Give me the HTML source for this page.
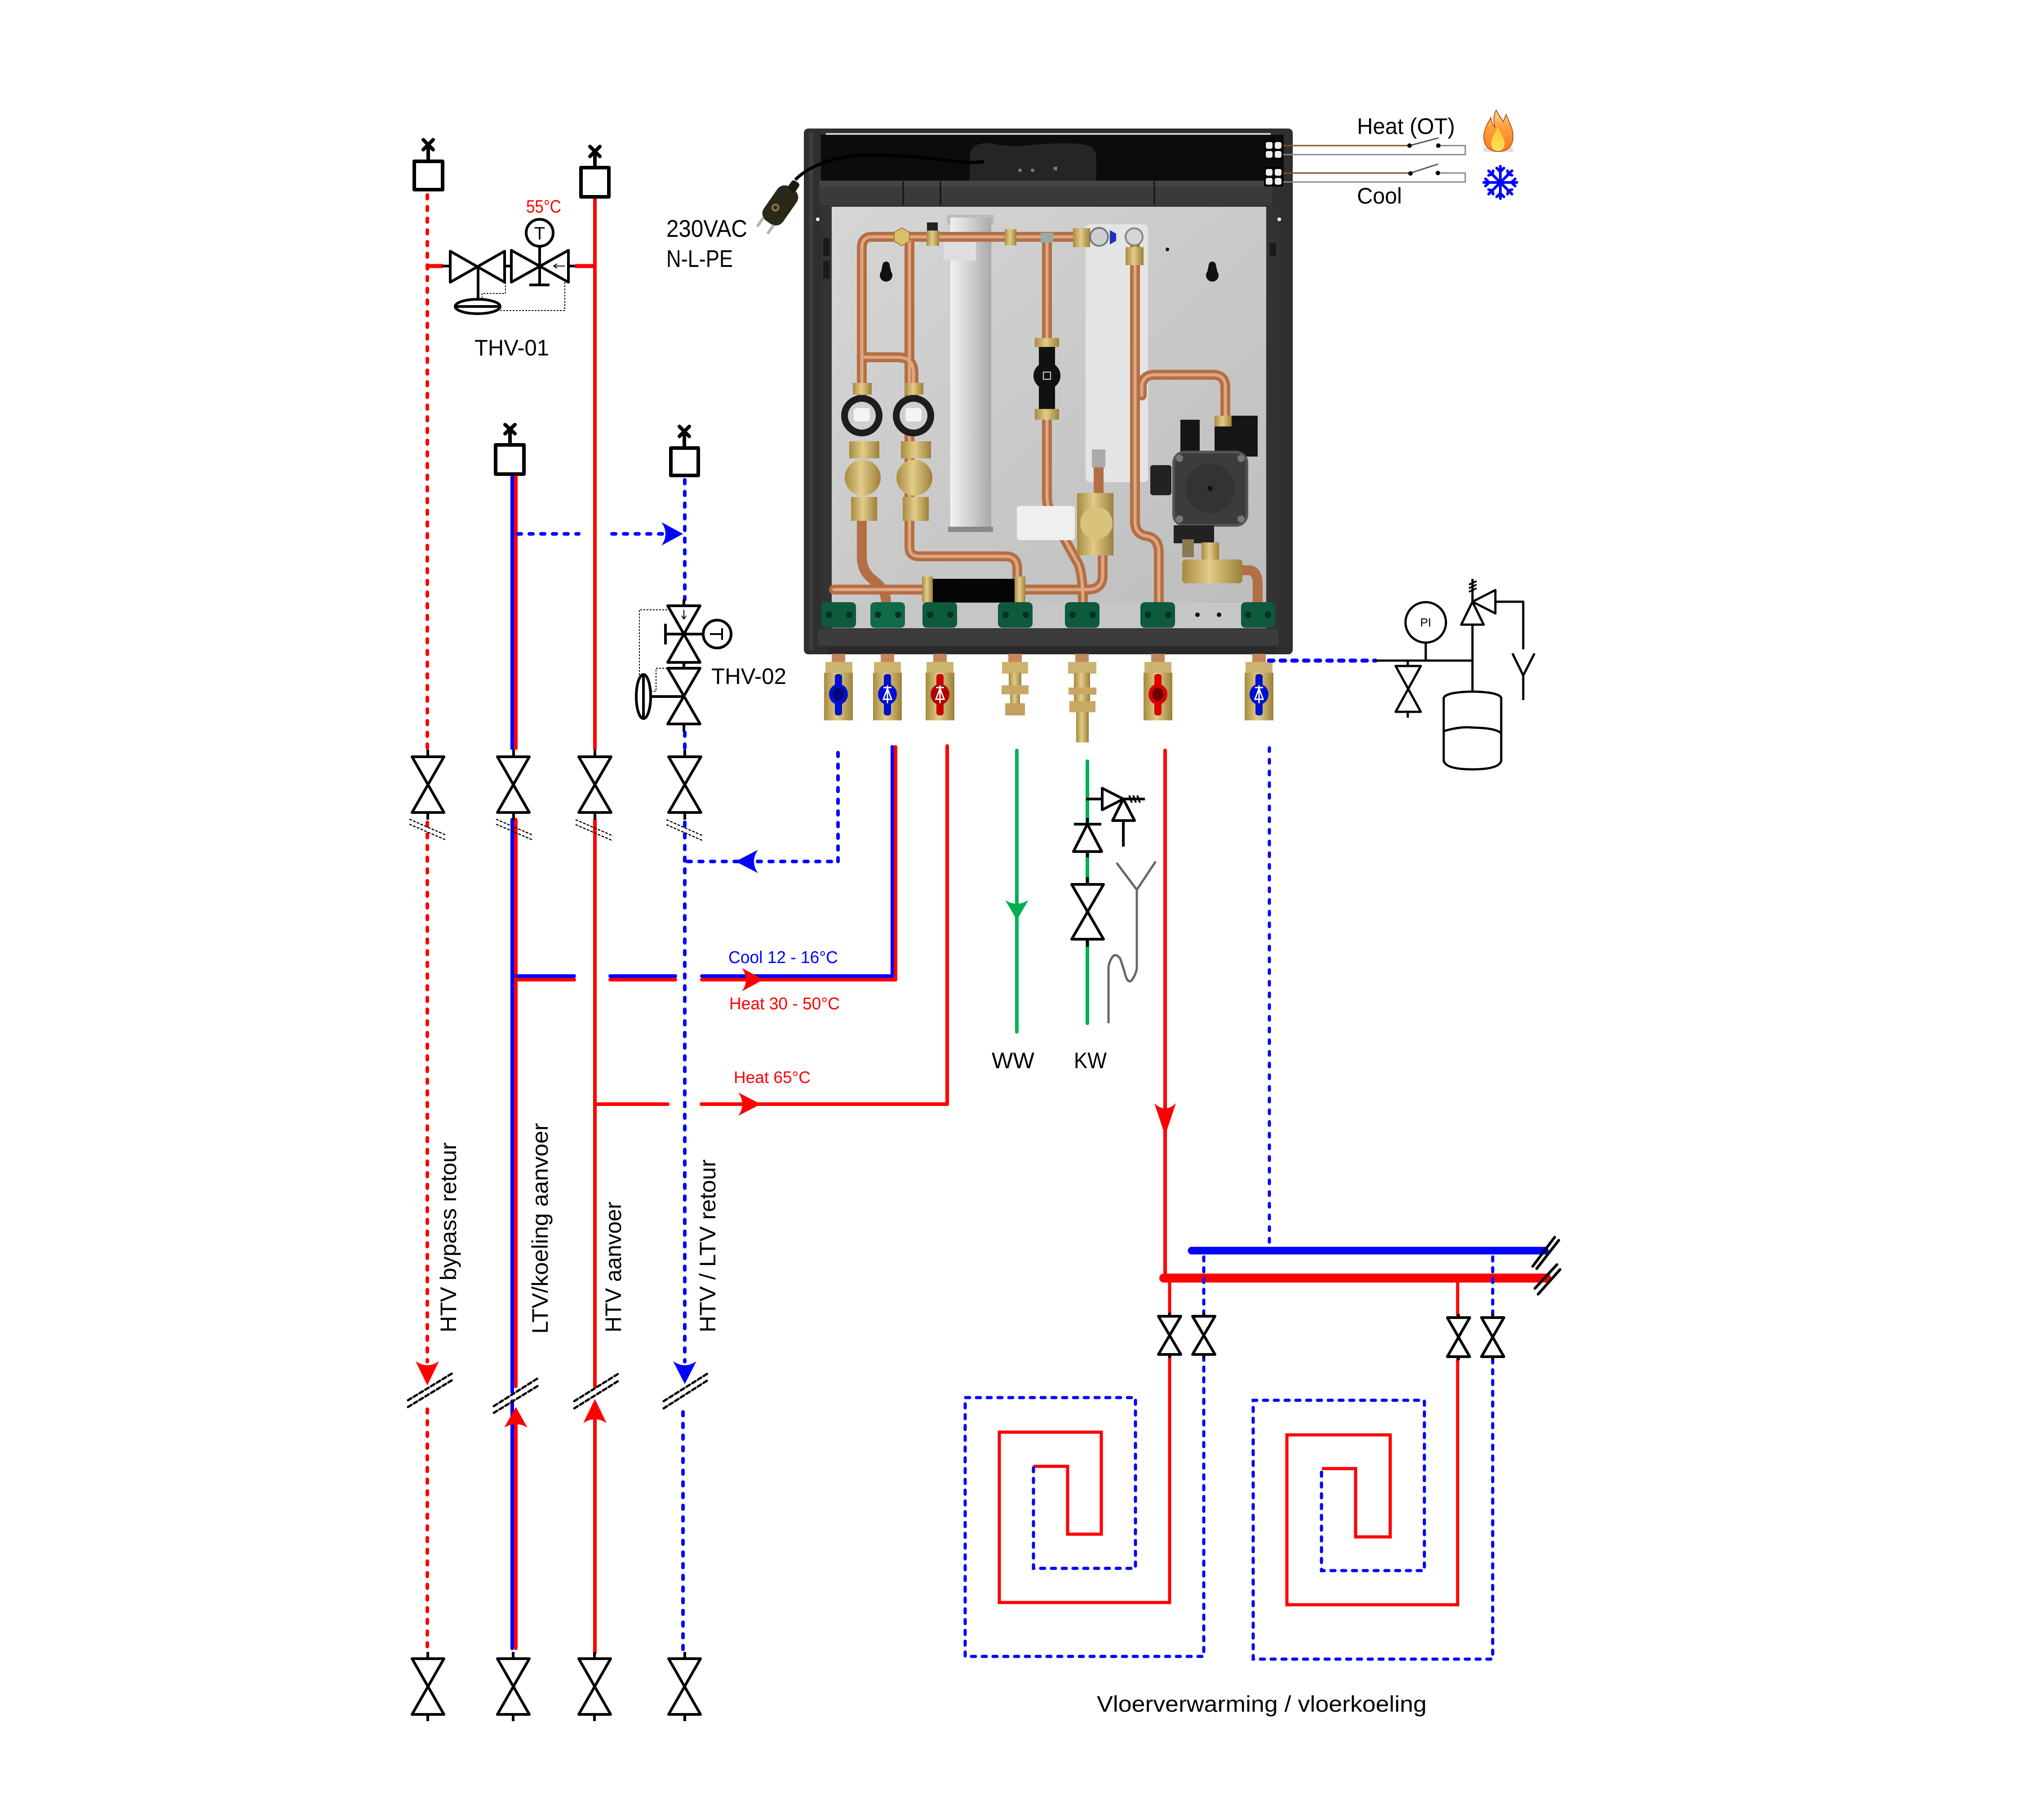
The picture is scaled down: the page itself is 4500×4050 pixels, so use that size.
<!DOCTYPE html>
<html><head><meta charset="utf-8"><title>Schema</title>
<style>html,body{margin:0;padding:0;background:#fff}svg{display:block}</style></head>
<body>
<svg xmlns="http://www.w3.org/2000/svg" width="4500" height="4050" viewBox="0 0 4500 4050" font-family="'Liberation Sans', Arial, sans-serif">
<defs>
<linearGradient id="pg" x1="0" y1="0" x2="1" y2="1"><stop offset="0" stop-color="#d6d6d6"/><stop offset="1" stop-color="#bdbdbd"/></linearGradient>
<linearGradient id="hx" x1="0" y1="0" x2="1" y2="0"><stop offset="0" stop-color="#f2f2f2"/><stop offset="0.5" stop-color="#cfcfcf"/><stop offset="1" stop-color="#a9a9a9"/></linearGradient>
<linearGradient id="br" x1="0" y1="0" x2="1" y2="0"><stop offset="0" stop-color="#a88a40"/><stop offset="0.45" stop-color="#e2cc88"/><stop offset="1" stop-color="#9c8038"/></linearGradient>
<linearGradient id="fl" x1="0" y1="1" x2="0" y2="0"><stop offset="0" stop-color="#ff7a1a"/><stop offset="0.6" stop-color="#ffa040"/><stop offset="1" stop-color="#ffd8a0"/></linearGradient>
<linearGradient id="fi" x1="0" y1="1" x2="0" y2="0"><stop offset="0" stop-color="#ffe060"/><stop offset="1" stop-color="#ffc830"/></linearGradient>
</defs>
<rect width="4500" height="4050" fill="#fff"/>

<!-- ================= PANEL ================= -->
<g>
<rect x="1789" y="286" width="1088" height="1170" rx="10" fill="#2f2f2f"/>
<rect x="1800" y="296" width="10" height="1150" fill="#3e3e3e"/>
<rect x="1827" y="300" width="1030" height="102" fill="#0c0c0c"/>
<line x1="1838" y1="298" x2="2828" y2="298" stroke="#cfcfcf" stroke-width="4"/>
<path d="M2158,402 L2158,345 Q2162,318 2200,318 Q2250,330 2300,322 Q2400,314 2428,326 Q2442,336 2440,362 L2440,402 Z" fill="#252525"/>
<circle cx="2270" cy="379" r="4" fill="#777"/><circle cx="2298" cy="379" r="4" fill="#777"/><rect x="2345" y="371" width="8" height="8" fill="#777"/>
<rect x="1823" y="402" width="1009" height="55" fill="#3a3a3a"/>
<rect x="1823" y="402" width="1009" height="14" fill="#444"/>
<line x1="2010" y1="404" x2="2010" y2="456" stroke="#1a1a1a" stroke-width="4"/>
<line x1="2093" y1="404" x2="2093" y2="456" stroke="#1a1a1a" stroke-width="4"/>
<line x1="2569" y1="404" x2="2569" y2="456" stroke="#1a1a1a" stroke-width="4"/>
<rect x="1827" y="460" width="24" height="940" fill="#333"/>
<rect x="2818" y="460" width="28" height="940" fill="#333"/>
<rect x="1832" y="530" width="14" height="40" fill="#1a1a1a"/><rect x="1832" y="580" width="14" height="40" fill="#1a1a1a"/>
<rect x="2826" y="540" width="14" height="30" fill="#1a1a1a"/>
<circle cx="1820" cy="488" r="4" fill="#fff"/><circle cx="2847" cy="488" r="4" fill="#fff"/>
<!-- inner panel -->
<rect x="1851" y="460" width="967" height="881" fill="url(#pg)"/>
<!-- keyholes -->
<path d="M1964,590 a8,8 0 0 1 16,0 l3,14 a14,14 0 1 1 -22,0 z" fill="#111"/>
<path d="M2690,590 a8,8 0 0 1 16,0 l3,14 a14,14 0 1 1 -22,0 z" fill="#111"/>
<circle cx="2598" cy="555" r="4" fill="#111"/>
<!-- white plate -->
<rect x="2416" y="499" width="139" height="574" rx="10" fill="#e4e4e4"/>
<!-- heat exchanger -->
<rect x="2108" y="478" width="104" height="22" fill="#bbb"/>
<rect x="2115" y="484" width="91" height="699" fill="url(#hx)"/>
<rect x="2100" y="527" width="72" height="53" fill="#dedede"/>
<rect x="2110" y="1172" width="100" height="12" fill="#8a8a8a"/>
<!-- copper pipes -->
<g fill="none" stroke="#b46e45" stroke-width="22" stroke-linecap="round" stroke-linejoin="round">
<path d="M2009,527 H1940 Q1918,527 1918,552 V900"/>
<path d="M1918,1159 V1240 Q1918,1272 1945,1292 Q1972,1312 1972,1341"/>
<path d="M2024,537 V1218 Q2024,1238 2046,1238 H2238 Q2264,1238 2264,1266 V1300"/>
<path d="M1918,795 H1998 Q2033,795 2033,830 V900"/>
<path d="M2009,527 H2445"/>
<path d="M2330,537 V760"/>
<path d="M2330,930 V1105 Q2330,1130 2346,1158 L2400,1255 Q2410,1280 2410,1341"/>
<path d="M2526,537 V1160 Q2526,1190 2553,1193 Q2579,1198 2579,1230 V1341"/>
<path d="M2541,880 V862 Q2541,834 2570,834 H2700 Q2727,834 2727,862 V929"/>
<path d="M1856,1312 H2052"/>
<path d="M2282,1312 H2420 Q2454,1312 2454,1280 V1236"/>
<path d="M2765,1269 H2778 Q2799,1269 2799,1300 V1341"/>
<path d="M2445,1097 V1040"/>
</g>
<g fill="none" stroke="#e6b08c" stroke-width="7" stroke-linecap="round" stroke-linejoin="round" opacity="0.85">
<path d="M2009,527 H1940 Q1918,527 1918,552 V900"/>
<path d="M2024,537 V1218 Q2024,1238 2046,1238 H2238 Q2264,1238 2264,1266 V1300"/>
<path d="M1918,795 H1998 Q2033,795 2033,830 V900"/>
<path d="M2009,527 H2445"/>
<path d="M2330,537 V760"/>
<path d="M2330,930 V1105 Q2330,1130 2346,1158 L2400,1255 Q2410,1280 2410,1341"/>
<path d="M2526,537 V1160 Q2526,1190 2553,1193 Q2579,1198 2579,1230 V1341"/>
<path d="M2541,880 V862 Q2541,834 2570,834 H2700 Q2727,834 2727,862 V929"/>
<path d="M1856,1312 H2052"/>
<path d="M2282,1312 H2420 Q2454,1312 2454,1280 V1236"/>
</g>
<!-- top pipe fittings -->
<polygon points="2007,507 2024,517 2024,537 2007,547 1990,537 1990,517" fill="#d8c068" stroke="#9c8038" stroke-width="2"/>
<rect x="2063" y="495" width="24" height="18" fill="#222"/>
<rect x="2062" y="513" width="28" height="34" fill="url(#br)"/>
<rect x="2236" y="510" width="26" height="36" fill="url(#br)"/>
<rect x="2316" y="518" width="28" height="22" fill="#9aa"/>
<rect x="2388" y="508" width="38" height="42" fill="url(#br)"/>
<circle cx="2446" cy="527" r="20" fill="#cfcfcf" stroke="#777" stroke-width="4"/>
<polygon points="2470,512 2484,520 2484,536 2470,544" fill="#2030c0"/>
<circle cx="2524" cy="527" r="19" fill="#d6d6d6" stroke="#888" stroke-width="4"/>
<rect x="2505" y="550" width="40" height="40" fill="url(#br)"/>
<!-- middle check valve -->
<rect x="2303" y="752" width="54" height="20" fill="url(#br)"/>
<rect x="2312" y="772" width="36" height="138" fill="#111"/>
<circle cx="2330" cy="836" r="30" fill="#111"/>
<rect x="2322" y="828" width="16" height="16" fill="none" stroke="#ddd" stroke-width="2"/>
<rect x="2303" y="910" width="54" height="24" fill="url(#br)"/>
<!-- flow meters -->
<g>
<rect x="1898" y="852" width="42" height="26" fill="url(#br)"/>
<circle cx="1918" cy="925" r="46" fill="#1d1d1d"/><circle cx="1918" cy="925" r="31" fill="#cfcfcf"/><rect x="1900" y="908" width="36" height="30" rx="6" fill="#f3f3f3"/>
<rect x="1890" y="982" width="67" height="38" fill="url(#br)"/>
<circle cx="1920" cy="1063" r="40" fill="url(#br)"/>
<rect x="1894" y="1106" width="58" height="53" fill="url(#br)"/>
<rect x="2013" y="852" width="42" height="26" fill="url(#br)"/>
<circle cx="2033" cy="925" r="46" fill="#1d1d1d"/><circle cx="2033" cy="925" r="31" fill="#cfcfcf"/><rect x="2015" y="908" width="36" height="30" rx="6" fill="#f3f3f3"/>
<rect x="2005" y="982" width="67" height="38" fill="url(#br)"/>
<circle cx="2035" cy="1063" r="40" fill="url(#br)"/>
<rect x="2009" y="1106" width="58" height="53" fill="url(#br)"/>
</g>
<!-- bottom insulation -->
<rect x="2072" y="1288" width="186" height="53" fill="#050505"/>
<rect x="2052" y="1283" width="24" height="58" fill="url(#br)"/>
<rect x="2258" y="1283" width="24" height="58" fill="url(#br)"/>
<!-- white cylinder + 3-way valve -->
<rect x="2263" y="1126" width="129" height="76" rx="6" fill="#efefef"/>
<rect x="2430" y="1000" width="30" height="40" fill="#aaa"/>
<rect x="2397" y="1097" width="81" height="139" fill="url(#br)"/>
<circle cx="2440" cy="1164" r="36" fill="#d9c27a"/>
<!-- pump -->
<rect x="2627" y="934" width="43" height="72" fill="#161616"/>
<rect x="2703" y="925" width="96" height="91" fill="#161616"/>
<rect x="2703" y="925" width="38" height="24" fill="url(#br)"/>
<rect x="2560" y="1035" width="47" height="67" rx="6" fill="#222"/>
<rect x="2612" y="1006" width="163" height="163" rx="24" fill="#3c3c3c" stroke="#555" stroke-width="6"/>
<circle cx="2693" cy="1087" r="55" fill="#333"/>
<circle cx="2693" cy="1087" r="6" fill="#111"/>
<circle cx="2625" cy="1020" r="8" fill="#777"/><circle cx="2762" cy="1020" r="8" fill="#777"/><circle cx="2625" cy="1155" r="8" fill="#777"/><circle cx="2762" cy="1155" r="8" fill="#777"/>
<rect x="2612" y="1169" width="90" height="40" fill="#222"/>
<rect x="2631" y="1200" width="26" height="40" fill="#8a7a50"/>
<rect x="2674" y="1207" width="39" height="43" fill="url(#br)"/>
<rect x="2631" y="1245" width="134" height="53" rx="8" fill="url(#br)"/>
<!-- bottom rail & clamps -->
<rect x="1851" y="1341" width="967" height="57" fill="#c6c6c6"/>
<g fill="#0d5a3c">
<rect x="1828" y="1340" width="77" height="57" rx="10"/><rect x="1937" y="1340" width="77" height="57" rx="10" fill="#0f6a47"/><rect x="2053" y="1340" width="77" height="57" rx="10"/><rect x="2221" y="1340" width="77" height="57" rx="10"/><rect x="2370" y="1340" width="77" height="57" rx="10"/><rect x="2538" y="1340" width="77" height="57" rx="10"/><rect x="2762" y="1340" width="75" height="57" rx="10"/>
</g>
<g fill="#06301f">
<circle cx="1845" cy="1368" r="7"/><circle cx="1890" cy="1368" r="7"/><circle cx="1954" cy="1368" r="7"/><circle cx="1999" cy="1368" r="7"/><circle cx="2070" cy="1368" r="7"/><circle cx="2115" cy="1368" r="7"/><circle cx="2238" cy="1368" r="7"/><circle cx="2283" cy="1368" r="7"/><circle cx="2387" cy="1368" r="7"/><circle cx="2432" cy="1368" r="7"/><circle cx="2555" cy="1368" r="7"/><circle cx="2600" cy="1368" r="7"/><circle cx="2778" cy="1368" r="7"/><circle cx="2822" cy="1368" r="7"/>
</g>
<circle cx="2665" cy="1368" r="5" fill="#111"/><circle cx="2713" cy="1368" r="5" fill="#111"/>
<rect x="1820" y="1400" width="1025" height="37" fill="#3c3c3c"/>
<rect x="1840" y="1437" width="1000" height="19" fill="#2a2a2a"/>
<!-- terminal blocks -->
<rect x="2813" y="312" width="43" height="43" fill="#000"/>
<rect x="2813" y="372" width="43" height="43" fill="#000"/>
<g fill="#eee">
<rect x="2817" y="316" width="15" height="15" rx="4"/><rect x="2837" y="316" width="15" height="15" rx="4"/><rect x="2817" y="336" width="15" height="15" rx="4"/><rect x="2837" y="336" width="15" height="15" rx="4"/>
<rect x="2817" y="376" width="15" height="15" rx="4"/><rect x="2837" y="376" width="15" height="15" rx="4"/><rect x="2817" y="396" width="15" height="15" rx="4"/><rect x="2837" y="396" width="15" height="15" rx="4"/>
</g>
<!-- plug cable and plug -->
<path d="M1770,400 Q1820,350 1930,345 Q2030,346 2100,356 Q2150,364 2190,360" fill="none" stroke="#000" stroke-width="7"/>
<g transform="translate(1733,462) rotate(35)">
<rect x="-26" y="-52" width="52" height="92" rx="20" fill="#2a2818"/>
<rect x="-10" y="-70" width="20" height="24" rx="6" fill="#1a1a10"/>
<circle cx="-6" cy="4" r="9" fill="#8a6a40"/><circle cx="-6" cy="4" r="4" fill="#2a2010"/>
<rect x="-18" y="38" width="6" height="24" fill="#b8b0a0"/><rect x="10" y="38" width="6" height="24" fill="#b8b0a0"/>
</g>
<!-- fittings below panel -->
<g>
<rect x="1851" y="1455" width="30" height="20" fill="#c4875c"/>
<rect x="1837" y="1473" width="60" height="26" fill="#cbb370"/>
<rect x="1834" y="1497" width="64" height="106" fill="url(#br)"/>
<rect x="1858" y="1500" width="16" height="92" rx="6" fill="#0010d0"/>
<ellipse cx="1866" cy="1545" rx="21" ry="23" fill="#0010d0"/><ellipse cx="1866" cy="1545" rx="12" ry="15" fill="#00087a"/>

<rect x="1960" y="1455" width="30" height="20" fill="#c4875c"/>
<rect x="1945" y="1473" width="60" height="26" fill="#cbb370"/>
<rect x="1943" y="1497" width="64" height="106" fill="url(#br)"/>
<rect x="1967" y="1500" width="16" height="92" rx="6" fill="#0010d0"/>
<ellipse cx="1975" cy="1545" rx="21" ry="23" fill="#0010d0"/>
<path d="M1966,1530 H1984 M1975,1525 V1565 M1975,1532 L1966,1556 H1984 Z" fill="none" stroke="#fff" stroke-width="3"/>

<rect x="2077" y="1455" width="30" height="20" fill="#c4875c"/>
<rect x="2062" y="1473" width="60" height="26" fill="#cbb370"/>
<rect x="2060" y="1497" width="64" height="106" fill="url(#br)"/>
<rect x="2084" y="1500" width="16" height="92" rx="6" fill="#cc0000"/>
<ellipse cx="2092" cy="1545" rx="21" ry="23" fill="#b00000"/>
<path d="M2083,1530 H2101 M2092,1525 V1565 M2092,1532 L2083,1556 H2101 Z" fill="none" stroke="#fff" stroke-width="3"/>

<rect x="2244" y="1455" width="30" height="20" fill="#c4875c"/>
<rect x="2230" y="1473" width="58" height="26" fill="#cbb370"/>
<rect x="2245" y="1497" width="28" height="30" fill="url(#br)"/>
<rect x="2229" y="1525" width="60" height="20" fill="#c9a866"/>
<rect x="2248" y="1545" width="22" height="22" fill="url(#br)"/>
<rect x="2237" y="1565" width="44" height="27" fill="#c4a060"/>

<rect x="2393" y="1455" width="30" height="20" fill="#c4875c"/>
<rect x="2377" y="1473" width="63" height="26" fill="#cbb370"/>
<rect x="2390" y="1497" width="36" height="33" fill="url(#br)"/>
<rect x="2378" y="1530" width="62" height="16" fill="#c9a866"/>
<rect x="2390" y="1545" width="36" height="16" fill="url(#br)"/>
<rect x="2380" y="1560" width="58" height="25" fill="#c9a866"/>
<rect x="2395" y="1585" width="28" height="67" fill="url(#br)"/>

<rect x="2562" y="1455" width="30" height="20" fill="#c4875c"/>
<rect x="2547" y="1473" width="60" height="26" fill="#cbb370"/>
<rect x="2545" y="1497" width="64" height="106" fill="url(#br)"/>
<rect x="2569" y="1500" width="16" height="92" rx="6" fill="#dd0000"/>
<ellipse cx="2577" cy="1545" rx="21" ry="23" fill="#dd0000"/><ellipse cx="2577" cy="1545" rx="12" ry="15" fill="#6a0000"/>

<rect x="2787" y="1455" width="30" height="20" fill="#c4875c"/>
<rect x="2772" y="1473" width="60" height="26" fill="#cbb370"/>
<rect x="2770" y="1497" width="64" height="106" fill="url(#br)"/>
<rect x="2794" y="1500" width="16" height="92" rx="6" fill="#0010d0"/>
<ellipse cx="2802" cy="1545" rx="21" ry="23" fill="#0010d0"/>
<path d="M2793,1530 H2811 M2802,1525 V1565 M2802,1532 L2793,1556 H2811 Z" fill="none" stroke="#fff" stroke-width="3"/>
</g>
</g>

<!-- ================= HEAT / COOL ================= -->
<g fill="none" stroke-width="3">
<line x1="2856" y1="324" x2="3137" y2="324" stroke="#8b4a1a"/>
<line x1="3137" y1="324" x2="3201" y2="307" stroke="#555"/>
<path d="M3201,324 H3261 V344 H2856" stroke="#888"/>
<line x1="2856" y1="385" x2="3139" y2="385" stroke="#8b4a1a"/>
<line x1="3139" y1="385" x2="3201" y2="365" stroke="#555"/>
<path d="M3200,385 H3261 V405 H2856" stroke="#888"/>
</g>
<circle cx="3137" cy="324" r="5" fill="#000"/><circle cx="3201" cy="324" r="5" fill="#000"/>
<circle cx="3139" cy="386" r="5" fill="#000"/><circle cx="3200" cy="385" r="5" fill="#000"/>
<text x="3020" y="298" font-size="50" textLength="218" lengthAdjust="spacingAndGlyphs">Heat (OT)</text>
<text x="3020" y="453" font-size="50" textLength="100" lengthAdjust="spacingAndGlyphs">Cool</text>
<!-- flame -->
<rect x="3302" y="328" width="65" height="10" fill="#ddd"/>
<path d="M3334,337 C3306,337 3298,312 3304,292 C3307,279 3314,270 3318,262 C3320,274 3323,280 3327,283 C3323,266 3325,253 3330,245 C3336,258 3341,263 3346,271 C3348,264 3350,259 3352,255 C3357,270 3369,287 3367,307 C3366,326 3355,337 3334,337 Z" fill="url(#fl)" stroke="#b0561a" stroke-width="2"/>
<path d="M3334,336 C3320,336 3316,322 3320,310 C3324,300 3330,292 3333,283 C3338,295 3346,303 3348,315 C3350,328 3344,336 3334,336 Z" fill="url(#fi)"/>
<!-- snowflake -->
<g stroke="#0000ff" stroke-width="6" stroke-linecap="round" fill="none">
<line x1="3339" y1="370" x2="3339" y2="442"/>
<line x1="3302" y1="406" x2="3376" y2="406"/>
<line x1="3313" y1="380" x2="3365" y2="432"/>
<line x1="3365" y1="380" x2="3313" y2="432"/>
<path d="M3331,374 L3339,382 L3347,374 M3331,438 L3339,430 L3347,438 M3306,398 L3314,406 L3306,414 M3372,398 L3364,406 L3372,414"/>
<path d="M3313,390 L3321,388 L3323,380 M3365,390 L3357,388 L3355,380 M3313,422 L3321,424 L3323,432 M3365,422 L3357,424 L3355,432"/>
</g>

<!-- 230VAC -->
<text x="1483" y="527" font-size="54" textLength="180" lengthAdjust="spacingAndGlyphs">230VAC</text>
<text x="1483" y="594" font-size="54" textLength="148" lengthAdjust="spacingAndGlyphs">N-L-PE</text>

<!-- ================= LEFT RISERS ================= -->
<g fill="none" stroke-linecap="round">
<!-- red dashed -->
<line x1="951" y1="434" x2="951" y2="1664" stroke="#f00" stroke-width="8" stroke-dasharray="8 18"/>
<line x1="951" y1="1830" x2="951" y2="3030" stroke="#f00" stroke-width="8" stroke-dasharray="8 18"/>
<line x1="951" y1="3136" x2="951" y2="3666" stroke="#f00" stroke-width="8" stroke-dasharray="8 18"/>
<!-- LTV pair -->
<line x1="1140" y1="1059" x2="1140" y2="1668" stroke="#00f" stroke-width="8" stroke-linecap="butt"/>
<line x1="1148" y1="1059" x2="1148" y2="1668" stroke="#f00" stroke-width="8" stroke-linecap="butt"/>
<line x1="1140" y1="1824" x2="1140" y2="3098" stroke="#00f" stroke-width="8"/>
<line x1="1148" y1="1824" x2="1148" y2="3085" stroke="#f00" stroke-width="8"/>
<line x1="1140" y1="3118" x2="1140" y2="3668" stroke="#00f" stroke-width="8"/>
<line x1="1148" y1="3150" x2="1148" y2="3668" stroke="#f00" stroke-width="8"/>
<!-- HTV red -->
<line x1="1324" y1="442" x2="1324" y2="1668" stroke="#f00" stroke-width="8" stroke-linecap="butt"/>
<line x1="1324" y1="1824" x2="1324" y2="3085" stroke="#f00" stroke-width="8"/>
<line x1="1324" y1="3140" x2="1324" y2="3678" stroke="#f00" stroke-width="8"/>
<!-- blue dashed -->
<line x1="1524" y1="1068" x2="1524" y2="1334" stroke="#00f" stroke-width="8" stroke-dasharray="8 18"/>
<line x1="1524" y1="1630" x2="1524" y2="1664" stroke="#00f" stroke-width="8" stroke-dasharray="8 18"/>
<line x1="1524" y1="1830" x2="1524" y2="3030" stroke="#00f" stroke-width="8" stroke-dasharray="8 18"/>
<line x1="1520" y1="3142" x2="1520" y2="3672" stroke="#00f" stroke-width="8" stroke-dasharray="8 18"/>
<!-- horizontals -->
<line x1="1152" y1="1188" x2="1288" y2="1188" stroke="#00f" stroke-width="8" stroke-dasharray="8 18"/>
<line x1="1362" y1="1188" x2="1480" y2="1188" stroke="#00f" stroke-width="8" stroke-dasharray="8 18"/>
<line x1="1530" y1="1917" x2="1865" y2="1917" stroke="#00f" stroke-width="8" stroke-dasharray="8 18"/>
<line x1="1865" y1="1917" x2="1865" y2="1664" stroke="#00f" stroke-width="8" stroke-dasharray="8 18"/>
<!-- pair horizontal -->
<line x1="1148" y1="2172" x2="1278" y2="2172" stroke="#00f" stroke-width="8"/>
<line x1="1148" y1="2180" x2="1278" y2="2180" stroke="#f00" stroke-width="8"/>
<line x1="1358" y1="2172" x2="1503" y2="2172" stroke="#00f" stroke-width="8"/>
<line x1="1358" y1="2180" x2="1503" y2="2180" stroke="#f00" stroke-width="8"/>
<path d="M1562,2172 H1986 V1662" stroke="#00f" stroke-width="8" stroke-linejoin="round"/>
<path d="M1562,2180 H1993 V1662" stroke="#f00" stroke-width="8" stroke-linejoin="round"/>
<!-- heat 65 -->
<line x1="1324" y1="2457" x2="1486" y2="2457" stroke="#f00" stroke-width="8"/>
<path d="M1561,2457 H2108 V1660" stroke="#f00" stroke-width="8" stroke-linejoin="round"/>
<!-- THV-01 red -->
<line x1="951" y1="592" x2="986" y2="592" stroke="#f00" stroke-width="9" stroke-linecap="butt"/>
<line x1="1280" y1="592" x2="1324" y2="592" stroke="#f00" stroke-width="9" stroke-linecap="butt"/>
</g>

<!-- purge boxes -->
<g fill="#fff" stroke="#000" stroke-width="8" stroke-linejoin="round" stroke-linecap="round">
<rect x="922" y="359" width="63" height="63"/>
<line x1="953" y1="322" x2="953" y2="355"/>
<line x1="942" y1="311" x2="964" y2="333"/><line x1="964" y1="311" x2="942" y2="333"/>
<rect x="1293" y="373" width="62" height="65"/>
<line x1="1324" y1="337" x2="1324" y2="369"/>
<line x1="1313" y1="326" x2="1335" y2="348"/><line x1="1335" y1="326" x2="1313" y2="348"/>
<rect x="1103" y="990" width="63" height="65"/>
<line x1="1135" y1="955" x2="1135" y2="986"/>
<line x1="1124" y1="945" x2="1146" y2="965"/><line x1="1146" y1="945" x2="1124" y2="965"/>
<rect x="1493" y="997" width="61" height="61"/>
<line x1="1523" y1="961" x2="1523" y2="993"/>
<line x1="1512" y1="949" x2="1534" y2="971"/><line x1="1534" y1="949" x2="1512" y2="971"/>
</g>

<!-- gate valves (upper and lower) -->
<g fill="#fff" stroke="#000" stroke-width="6" stroke-linejoin="round" stroke-linecap="butt">
<path d="M917,1684 H988 L917,1808 H988 Z"/><path d="M952,1668 V1684 M952,1808 V1824"/>
<path d="M1107,1684 H1178 L1107,1808 H1178 Z"/><path d="M1143,1668 V1684 M1143,1808 V1824"/>
<path d="M1288,1684 H1360 L1288,1808 H1360 Z"/><path d="M1324,1668 V1684 M1324,1808 V1824"/>
<path d="M1488,1684 H1560 L1488,1808 H1560 Z"/><path d="M1524,1668 V1684 M1524,1808 V1824"/>

<path d="M917,3691 H988 L917,3815 H988 Z"/><path d="M952,3676 V3691 M952,3815 V3830"/>
<path d="M1107,3691 H1178 L1107,3815 H1178 Z"/><path d="M1142,3676 V3691 M1142,3815 V3830"/>
<path d="M1288,3691 H1359 L1288,3815 H1359 Z"/><path d="M1323,3676 V3691 M1323,3815 V3830"/>
<path d="M1488,3691 H1559 L1488,3815 H1559 Z"/><path d="M1524,3676 V3691 M1524,3815 V3830"/>
</g>

<!-- upper break marks (thin dashed) -->
<g stroke="#000" stroke-width="2.5" stroke-dasharray="6 3" fill="none">
<path d="M911,1823 L992,1858 M911,1834 L992,1869"/>
<path d="M1104,1823 L1185,1858 M1104,1834 L1185,1869"/>
<path d="M1281,1824 L1364,1860 M1281,1835 L1364,1871"/>
<path d="M1483,1824 L1565,1860 M1483,1835 L1565,1871"/>
</g>
<!-- lower break marks (thick dashed) -->
<g stroke="#000" stroke-width="5" stroke-dasharray="9 6" stroke-linecap="round" fill="none">
<path d="M908,3116 L1008,3055 M908,3131 L1008,3070"/>
<path d="M1099,3129 L1197,3067 M1099,3144 L1197,3084"/>
<path d="M1278,3118 L1376,3057 M1278,3134 L1376,3073"/>
<path d="M1477,3118 L1574,3057 M1477,3134 L1574,3072"/>
</g>

<!-- arrows -->
<path d="M1520,1188 L1472,1162 Q1490,1188 1472,1214 Z" fill="#00f"/>
<path d="M1637,1917 L1687,1891 Q1669,1917 1687,1943 Z" fill="#00f"/>
<path d="M1699,2180 L1651,2154 Q1669,2180 1651,2206 Z" fill="#f00"/>
<path d="M1693,2457 L1643,2431 Q1661,2457 1643,2483 Z" fill="#f00"/>
<path d="M951,3083 L925,3029 Q951,3047 977,3029 Z" fill="#f00"/>
<path d="M1524,3080 L1498,3029 Q1524,3047 1550,3029 Z" fill="#00f"/>
<path d="M1148,3131 L1122,3177 Q1148,3161 1174,3177 Z" fill="#f00"/>
<path d="M1324,3113 L1298,3167 Q1324,3149 1350,3167 Z" fill="#f00"/>
<path d="M2263,2047 L2237,2003 Q2263,2019 2289,2003 Z" fill="#00b050"/>
<path d="M2593,2527 L2569,2455 Q2593,2478 2617,2455 Z" fill="#f00"/>

<!-- THV-01 -->
<g fill="#fff" stroke="#000" stroke-width="6" stroke-linejoin="round">
<path d="M1002,559 L1123,628 V559 L1002,628 Z"/>
<path d="M1138,557 L1265,628 V557 L1138,628 Z"/>
<circle cx="1201" cy="518" r="30"/>
<ellipse cx="1063" cy="682" rx="50" ry="16"/>
</g>
<g stroke="#000" stroke-width="6" fill="none">
<line x1="985" y1="592" x2="1002" y2="592"/>
<line x1="1123" y1="592" x2="1138" y2="592"/>
<line x1="1265" y1="592" x2="1280" y2="592"/>
<line x1="1201" y1="548" x2="1201" y2="634"/>
<line x1="1178" y1="634" x2="1223" y2="634"/>
<line x1="1064" y1="592" x2="1064" y2="666"/>
<line x1="1013" y1="682" x2="1113" y2="682"/>
</g>
<path d="M1232,592 H1257 M1232,592 l8,-5 M1232,592 l8,5" stroke="#000" stroke-width="2" fill="none"/>
<path d="M1125,628 V653 H1073 V666 M1257,628 V691 H1106" stroke="#000" stroke-width="2" stroke-dasharray="4 3" fill="none"/>
<text x="1201" y="533" font-size="40" text-anchor="middle">T</text>
<text x="1171" y="473" font-size="40" fill="#f00" textLength="78" lengthAdjust="spacingAndGlyphs">55°C</text>
<text x="1056" y="791" font-size="50" textLength="166" lengthAdjust="spacingAndGlyphs">THV-01</text>

<!-- THV-02 -->
<g fill="#fff" stroke="#000" stroke-width="6" stroke-linejoin="round">
<path d="M1486,1348 H1558 L1486,1474 H1558 Z"/>
<path d="M1486,1487 H1558 L1486,1611 H1558 Z"/>
<ellipse cx="1596" cy="1411" rx="31" ry="31"/>
<ellipse cx="1432" cy="1550" rx="16" ry="49"/>
</g>
<g stroke="#000" stroke-width="6" fill="none">
<line x1="1522" y1="1334" x2="1522" y2="1348"/>
<line x1="1522" y1="1474" x2="1522" y2="1487"/>
<line x1="1522" y1="1611" x2="1522" y2="1628"/>
<line x1="1481" y1="1411" x2="1565" y2="1411"/>
<line x1="1481" y1="1388" x2="1481" y2="1434"/>
<line x1="1448" y1="1550" x2="1522" y2="1550"/>
<line x1="1432" y1="1502" x2="1432" y2="1598"/>
<line x1="1580" y1="1411" x2="1607" y2="1411" stroke-width="4"/>
<line x1="1607" y1="1398" x2="1607" y2="1424" stroke-width="4"/>
</g>
<path d="M1522,1357 V1378 M1522,1378 l-5,-8 M1522,1378 l5,-8" stroke="#000" stroke-width="2" fill="none"/>
<path d="M1485,1357 H1423 V1502 M1485,1487 H1460 V1538 H1448" stroke="#000" stroke-width="2" stroke-dasharray="4 3" fill="none"/>
<text x="1583" y="1522" font-size="50" textLength="167" lengthAdjust="spacingAndGlyphs">THV-02</text>

<!-- labels -->
<text x="1621" y="2143" font-size="38" fill="#00f" textLength="244" lengthAdjust="spacingAndGlyphs">Cool 12 - 16°C</text>
<text x="1623" y="2246" font-size="38" fill="#f00" textLength="246" lengthAdjust="spacingAndGlyphs">Heat 30 - 50°C</text>
<text x="1633" y="2410" font-size="37" fill="#f00" textLength="171" lengthAdjust="spacingAndGlyphs">Heat 65°C</text>
<text transform="translate(1015,2965) rotate(-90)" font-size="50" textLength="423" lengthAdjust="spacingAndGlyphs">HTV bypass retour</text>
<text transform="translate(1219,2968) rotate(-90)" font-size="50" textLength="469" lengthAdjust="spacingAndGlyphs">LTV/koeling aanvoer</text>
<text transform="translate(1382,2965) rotate(-90)" font-size="50" textLength="291" lengthAdjust="spacingAndGlyphs">HTV aanvoer</text>
<text transform="translate(1592,2965) rotate(-90)" font-size="50" textLength="385" lengthAdjust="spacingAndGlyphs">HTV / LTV retour</text>

<!-- ================= WW / KW ================= -->
<g stroke-linecap="round" fill="none">
<line x1="2263" y1="1670" x2="2263" y2="2296" stroke="#00b050" stroke-width="8"/>
<line x1="2420" y1="1694" x2="2420" y2="2277" stroke="#00b050" stroke-width="8"/>
<line x1="2593" y1="1670" x2="2593" y2="2844" stroke="#f00" stroke-width="8"/>
<line x1="2825" y1="1664" x2="2825" y2="2780" stroke="#00f" stroke-width="7" stroke-dasharray="8 18"/>
<line x1="2824" y1="1470" x2="3061" y2="1470" stroke="#00f" stroke-width="9" stroke-dasharray="10 16"/>
</g>
<g fill="#fff" stroke="#000" stroke-width="6" stroke-linejoin="round">
<path d="M2453,1754 L2500,1778 L2453,1802 Z"/>
<path d="M2500,1778 L2525,1826 H2476 Z"/>
<path d="M2420,1834 L2452,1895 H2389 Z"/>
<path d="M2385,1968 H2456 L2385,2090 H2456 Z"/>
</g>
<g stroke="#000" stroke-width="6" fill="none">
<line x1="2417" y1="1778" x2="2453" y2="1778"/>
<line x1="2500" y1="1778" x2="2548" y2="1778"/>
<path d="M2513,1770 l6,16 M2522,1770 l6,16 M2531,1770 l6,16" stroke-width="4"/>
<line x1="2500" y1="1826" x2="2500" y2="1884"/>
<line x1="2390" y1="1834" x2="2451" y2="1834"/>
<line x1="2420" y1="1820" x2="2420" y2="1834"/>
<line x1="2420" y1="1895" x2="2420" y2="1908"/>
<line x1="2420" y1="1952" x2="2420" y2="1968"/>
<line x1="2420" y1="2090" x2="2420" y2="2107"/>
</g>
<path d="M2485,1920 L2530,1980 L2572,1917 M2530,1980 V2155 Q2527,2172 2517,2183 Q2508,2188 2502,2160 L2493,2133 Q2484,2122 2478,2127 Q2470,2135 2467,2152 V2277" fill="none" stroke="#666" stroke-width="5" stroke-linejoin="round"/>
<text x="2207" y="2377" font-size="50" textLength="95" lengthAdjust="spacingAndGlyphs">WW</text>
<text x="2390" y="2377" font-size="50" textLength="73" lengthAdjust="spacingAndGlyphs">KW</text>

<!-- ================= EXPANSION / PI ================= -->
<g stroke="#000" stroke-width="5" fill="none" stroke-linejoin="round">
<line x1="3061" y1="1470" x2="3277" y2="1470"/>
<circle cx="3173" cy="1385" r="45" fill="#fff"/>
<line x1="3173" y1="1430" x2="3173" y2="1470"/>
<line x1="3133" y1="1470" x2="3133" y2="1482"/>
<path d="M3106,1482 H3162 L3106,1584 H3162 Z" fill="#fff"/>
<line x1="3133" y1="1584" x2="3133" y2="1597"/>
<line x1="3277" y1="1390" x2="3277" y2="1540"/>
<path d="M3277,1339 L3302,1390 H3252 Z" fill="#fff"/>
<path d="M3277,1339 L3328,1313 V1365 Z" fill="#fff"/>
<line x1="3277" y1="1339" x2="3277" y2="1288"/>
<path d="M3269,1301 l17,-8 M3269,1309 l17,-8 M3269,1317 l17,-8" stroke-width="4"/>
<path d="M3328,1339 H3390 V1445"/>
<path d="M3366,1454 L3390,1503 L3415,1454 M3390,1503 V1558"/>
<path d="M3213,1553 Q3218,1540 3277,1539 Q3336,1540 3341,1553 V1693 Q3336,1712 3277,1712 Q3218,1712 3213,1693 Z" fill="#fff"/>
<path d="M3213,1627 Q3250,1616 3277,1619 Q3330,1620 3341,1632"/>
</g>
<text x="3173" y="1394" font-size="26" text-anchor="middle">PI</text>

<!-- ================= FLOOR HEATING ================= -->
<line x1="2652" y1="2783" x2="3438" y2="2783" stroke="#00f" stroke-width="17" stroke-linecap="round"/>
<line x1="2590" y1="2844" x2="3442" y2="2844" stroke="#f00" stroke-width="20" stroke-linecap="round"/>
<g stroke="#000" stroke-width="6" stroke-linecap="round">
<path d="M3411,2818 L3460,2753 M3420,2823 L3469,2760"/>
<path d="M3416,2867 L3465,2814 M3423,2880 L3472,2825"/>
</g>
<g fill="none" stroke-linejoin="miter">
<path d="M2603,2844 V2929" stroke="#f00" stroke-width="7"/>
<path d="M3244,2844 V2932" stroke="#f00" stroke-width="7"/>
<path d="M2679,2797 V2925" stroke="#00f" stroke-width="7" stroke-dasharray="9 15" stroke-linecap="round"/>
<path d="M3322,2797 V2928" stroke="#00f" stroke-width="7" stroke-dasharray="9 15" stroke-linecap="round"/>
<path d="M2603,3014 V3566 H2224 V3187 H2451 V3414 H2376 V3263 H2300" stroke="#f00" stroke-width="7"/>
<path d="M3244,3019 V3571 H2864 V3193 H3094 V3420 H3017 V3268 H2942" stroke="#f00" stroke-width="7"/>
<path d="M2679,3018 V3686 H2148 V3110 H2527 V3490 H2300 V3263" stroke="#00f" stroke-width="7" stroke-dasharray="9 15" stroke-linecap="round"/>
<path d="M3322,3024 V3692 H2789 V3116 H3170 V3495 H2941 V3268" stroke="#00f" stroke-width="7" stroke-dasharray="9 15" stroke-linecap="round"/>
</g>
<g fill="#fff" stroke="#000" stroke-width="6" stroke-linejoin="round">
<path d="M2578,2929 H2628 L2578,3014 H2628 Z"/>
<path d="M2654,2929 H2704 L2654,3014 H2704 Z"/>
<path d="M3221,2932 H3271 L3221,3019 H3271 Z"/>
<path d="M3297,2932 H3347 L3297,3019 H3347 Z"/>
</g>
<g stroke="#000" stroke-width="6">
<path d="M2603,2921 V2929 M2603,3014 V3022 M2679,2921 V2929 M2679,3014 V3022 M3246,2924 V2932 M3246,3019 V3027 M3322,2924 V2932 M3322,3019 V3027"/>
</g>
<text x="2441" y="3809" font-size="50" textLength="734" lengthAdjust="spacingAndGlyphs">Vloerverwarming / vloerkoeling</text>
</svg>
</body></html>
